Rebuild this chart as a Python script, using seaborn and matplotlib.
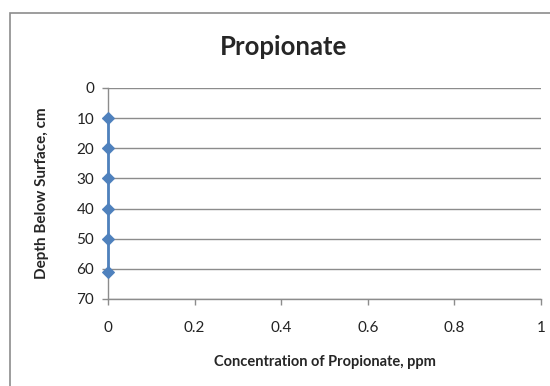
import matplotlib
matplotlib.use("Agg")
import matplotlib.pyplot as plt
import seaborn as sns
import pandas as pd
from matplotlib.patches import Rectangle

depth = [10, 20, 30, 40, 50, 61]
concentration = [0, 0, 0, 0, 0, 0]
x_ticks = [0, 0.2, 0.4, 0.6, 0.8, 1]
x_tick_labels = ["0", "0.2", "0.4", "0.6", "0.8", "1"]
y_ticks = [0, 10, 20, 30, 40, 50, 60, 70]

sns.set_theme(style="white")
plt.rcParams['font.family'] = ['Lato', 'DejaVu Sans']

df = pd.DataFrame({"conc": concentration, "depth": depth})

fig = plt.figure(figsize=(5.5, 3.86), dpi=100)
fig.patch.set_facecolor("white")
# outer chart border
fig.patches.append(Rectangle((10/550, -0.05), 1.2, 1 - 13/386 + 0.05,
                             transform=fig.transFigure, fill=False,
                             edgecolor="#8c8c8c", linewidth=1.2, zorder=0))

ax = fig.add_axes([108/550, 1 - 299/386, (541 - 108)/550, (299 - 88)/386])
sns.lineplot(data=df, x="conc", y="depth", sort=False, estimator=None,
             color="#4F81BD", linewidth=2, marker="D", markersize=6.5,
             markeredgecolor="#4F81BD", ax=ax)
for ln in ax.lines:
    ln.set_clip_on(False)
    ln.set_zorder(5)

ax.set_xlim(0, 1)
ax.set_ylim(70, 0)
ax.set_xticks(x_ticks)
ax.set_xticklabels(x_tick_labels)
ax.set_yticks(y_ticks)
ax.yaxis.grid(True, color="#8c8c8c", linewidth=1)
ax.xaxis.grid(False)
for s in ["top", "right"]:
    ax.spines[s].set_visible(False)
for s in ["left", "bottom"]:
    ax.spines[s].set_color("#8c8c8c")
    ax.spines[s].set_linewidth(1)
ax.tick_params(axis="both", which="major", length=4, width=1, color="#8c8c8c",
               labelsize=11, labelcolor="#222222", direction="out",
               left=True, bottom=True)
ax.tick_params(axis="x", pad=11.5)
ax.tick_params(axis="y", pad=6)

ax.set_xlabel("Concentration of Propionate, ppm", fontsize=10.5,
              fontweight="bold", labelpad=15)
ax.set_ylabel("Depth Below Surface, cm", fontsize=11,
              fontweight="bold", labelpad=20)
fig.text(283/550, 1 - 47/386, "Propionate", fontsize=18.5, fontweight="bold",
         ha="center", va="center")

fig.savefig("out.png", dpi=100)
